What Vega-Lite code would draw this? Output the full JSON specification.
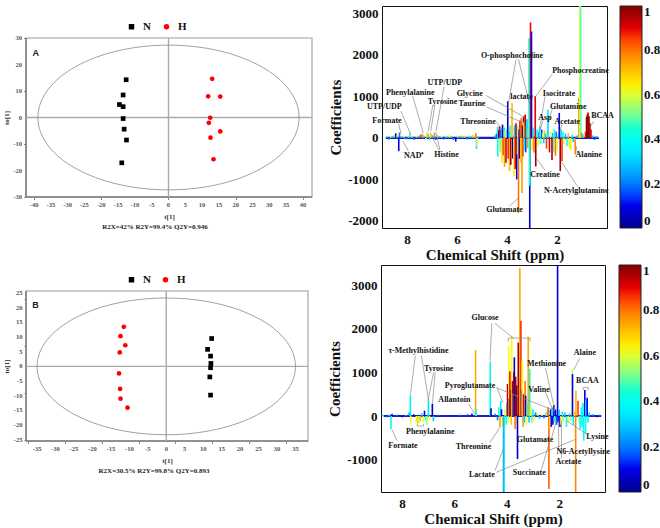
{
  "$schema": "https://vega.github.io/schema/vega-lite/v6.json",
  "background": "white",
  "padding": {"left": 2, "top": 5, "right": 0, "bottom": 0},
  "config": {"font": "Liberation Serif"},
  "datasets": {
    "scoreA": [
      {"t": -12.6, "o": 14.25, "g": "N"}, {"t": -13.5, "o": 8.5, "g": "N"}, {"t": -14.6, "o": 4.9, "g": "N"}, {"t": -13.5, "o": 4.1, "g": "N"},
      {"t": -13.5, "o": -0.4, "g": "N"}, {"t": -13.2, "o": -4.4, "g": "N"}, {"t": -12.5, "o": -8.5, "g": "N"}, {"t": -13.9, "o": -17.1, "g": "N"},
      {"t": 13.0, "o": 14.6, "g": "H"}, {"t": 11.8, "o": 8.0, "g": "H"}, {"t": 15.4, "o": 7.9, "g": "H"}, {"t": 12.4, "o": -0.1, "g": "H"},
      {"t": 12.0, "o": -2.0, "g": "H"}, {"t": 15.4, "o": -5.25, "g": "H"}, {"t": 12.5, "o": -7.6, "g": "H"}, {"t": 13.4, "o": -15.75, "g": "H"}
    ],
    "scoreB": [
      {"t": 12.3, "o": 9.5, "g": "N"}, {"t": 11.2, "o": 5.8, "g": "N"}, {"t": 12.0, "o": 3.5, "g": "N"}, {"t": 12.1, "o": 1.0, "g": "N"},
      {"t": 12.0, "o": -0.45, "g": "N"}, {"t": 11.8, "o": -3.6, "g": "N"}, {"t": 12.0, "o": -9.8, "g": "N"},
      {"t": -11.5, "o": 13.5, "g": "H"}, {"t": -12.4, "o": 10.3, "g": "H"}, {"t": -11.1, "o": 7.2, "g": "H"}, {"t": -12.6, "o": 4.75, "g": "H"},
      {"t": -12.8, "o": -2.4, "g": "H"}, {"t": -12.5, "o": -7.7, "g": "H"}, {"t": -12.4, "o": -11.0, "g": "H"}, {"t": -10.5, "o": -14.1, "g": "H"}
    ],
    "xlabA": [
      {"t": -40, "s": "-40"}, {"t": -35, "s": "-35"}, {"t": -30, "s": "-30"}, {"t": -25, "s": "-25"}, {"t": -20, "s": "-20"}, {"t": -15, "s": "-15"},
      {"t": -10, "s": "-10"}, {"t": -5, "s": "-5"}, {"t": 0, "s": "0"}, {"t": 5, "s": "5"}, {"t": 10, "s": "10"}, {"t": 15, "s": "15"},
      {"t": 20, "s": "20"}, {"t": 25, "s": "25"}, {"t": 30, "s": "30"}, {"t": 35, "s": "35"}, {"t": 40, "s": "40"}
    ],
    "ylabA": [
      {"o": -30, "s": "-30"}, {"o": -20, "s": "-20"}, {"o": -10, "s": "-10"}, {"o": 0, "s": "0"}, {"o": 10, "s": "10"}, {"o": 20, "s": "20"}, {"o": 30, "s": "30"}
    ],
    "xlabB": [
      {"t": -35, "s": "-35"}, {"t": -30, "s": "-30"}, {"t": -25, "s": "-25"}, {"t": -20, "s": "-20"}, {"t": -15, "s": "-15"},
      {"t": -10, "s": "-10"}, {"t": -5, "s": "-5"}, {"t": 0, "s": "0"}, {"t": 5, "s": "5"}, {"t": 10, "s": "10"}, {"t": 15, "s": "15"},
      {"t": 20, "s": "20"}, {"t": 25, "s": "25"}, {"t": 30, "s": "30"}, {"t": 35, "s": "35"}
    ],
    "ylabB": [
      {"o": -25, "s": "-25"}, {"o": -20, "s": "-20"}, {"o": -15, "s": "-15"}, {"o": -10, "s": "-10"}, {"o": -5, "s": "-5"}, {"o": 0, "s": "0"},
      {"o": 5, "s": "5"}, {"o": 10, "s": "10"}, {"o": 15, "s": "15"}, {"o": 20, "s": "20"}, {"o": 25, "s": "25"}
    ],
    "nmrA": [
      {"p": 8.8, "c": 30, "r": 0.4}, {"p": 8.72, "c": -40, "r": 0.2}, {"p": 8.65, "c": 50, "r": 0.6}, {"p": 8.58, "c": 40, "r": 0.3},
      {"p": 8.5, "c": 70, "r": 0.5}, {"p": 8.45, "c": 110, "r": 0.12}, {"p": 8.4, "c": 60, "r": 0.7}, {"p": 8.33, "c": -320, "r": 0.12},
      {"p": 8.3, "c": 130, "r": 0.2}, {"p": 8.22, "c": 40, "r": 0.45}, {"p": 8.12, "c": 60, "r": 0.6}, {"p": 8.05, "c": -40, "r": 0.3},
      {"p": 7.95, "c": 50, "r": 0.5}, {"p": 7.88, "c": 110, "r": 0.4}, {"p": 7.8, "c": 40, "r": 0.65}, {"p": 7.72, "c": -50, "r": 0.2},
      {"p": 7.62, "c": 40, "r": 0.55}, {"p": 7.5, "c": 60, "r": 0.3}, {"p": 7.44, "c": 80, "r": 0.85}, {"p": 7.38, "c": 100, "r": 0.75},
      {"p": 7.32, "c": 60, "r": 0.35}, {"p": 7.25, "c": -50, "r": 0.6}, {"p": 7.2, "c": 140, "r": 0.55}, {"p": 7.15, "c": 100, "r": 0.75},
      {"p": 7.1, "c": -60, "r": 0.4}, {"p": 7.05, "c": 120, "r": 0.62}, {"p": 6.98, "c": 60, "r": 0.3}, {"p": 6.9, "c": 130, "r": 0.78},
      {"p": 6.85, "c": -50, "r": 0.15}, {"p": 6.78, "c": 70, "r": 0.5}, {"p": 6.7, "c": 40, "r": 0.3}, {"p": 6.62, "c": 60, "r": 0.6},
      {"p": 6.55, "c": -40, "r": 0.2}, {"p": 6.45, "c": 50, "r": 0.5}, {"p": 6.38, "c": 30, "r": 0.3}, {"p": 6.3, "c": 60, "r": 0.65},
      {"p": 6.22, "c": 40, "r": 0.4}, {"p": 6.15, "c": -50, "r": 0.2}, {"p": 6.05, "c": -90, "r": 0.1}, {"p": 5.97, "c": 50, "r": 0.55},
      {"p": 5.9, "c": 40, "r": 0.3}, {"p": 5.82, "c": 60, "r": 0.7}, {"p": 5.75, "c": 30, "r": 0.4}, {"p": 5.68, "c": 50, "r": 0.6},
      {"p": 5.6, "c": -40, "r": 0.25}, {"p": 5.52, "c": 60, "r": 0.5}, {"p": 5.45, "c": 40, "r": 0.35}, {"p": 5.38, "c": 70, "r": 0.7},
      {"p": 5.3, "c": 50, "r": 0.6}, {"p": 5.25, "c": 110, "r": 0.8}, {"p": 5.22, "c": -270, "r": 0.35}, {"p": 5.2, "c": -200, "r": 0.6},
      {"p": 5.15, "c": 30, "r": 0.3},
      {"p": 4.48, "c": 60, "r": 0.3}, {"p": 4.42, "c": 100, "r": 0.15}, {"p": 4.38, "c": 260, "r": 0.35}, {"p": 4.37, "c": -450, "r": 0.4},
      {"p": 4.33, "c": 180, "r": 0.05}, {"p": 4.3, "c": 280, "r": 0.9}, {"p": 4.28, "c": -350, "r": 0.55}, {"p": 4.25, "c": 220, "r": 0.2},
      {"p": 4.22, "c": -300, "r": 0.45}, {"p": 4.2, "c": -600, "r": 0.65}, {"p": 4.18, "c": 320, "r": 0.05}, {"p": 4.15, "c": -420, "r": 0.85},
      {"p": 4.12, "c": 250, "r": 0.3}, {"p": 4.1, "c": -700, "r": 0.75}, {"p": 4.07, "c": 180, "r": 0.6}, {"p": 4.04, "c": -600, "r": 0.92},
      {"p": 4.01, "c": 200, "r": 0.4}, {"p": 3.97, "c": 880, "r": 0.05}, {"p": 3.95, "c": -500, "r": 0.9}, {"p": 3.92, "c": 150, "r": 0.2},
      {"p": 3.9, "c": -800, "r": 0.72}, {"p": 3.88, "c": 300, "r": 0.45}, {"p": 3.85, "c": -650, "r": 0.95}, {"p": 3.8, "c": 840, "r": 0.72},
      {"p": 3.77, "c": -500, "r": 0.05}, {"p": 3.72, "c": -925, "r": 0.65}, {"p": 3.7, "c": 300, "r": 0.3}, {"p": 3.67, "c": -750, "r": 0.88},
      {"p": 3.64, "c": 350, "r": 0.95}, {"p": 3.61, "c": -1000, "r": 0.1}, {"p": 3.58, "c": -400, "r": 0.6}, {"p": 3.56, "c": 300, "r": 0.55},
      {"p": 3.54, "c": -1805, "r": 0.8}, {"p": 3.52, "c": 200, "r": 0.15}, {"p": 3.5, "c": -500, "r": 0.05}, {"p": 3.48, "c": 420, "r": 0.9},
      {"p": 3.45, "c": -600, "r": 0.7}, {"p": 3.43, "c": 480, "r": 0.8}, {"p": 3.4, "c": -1330, "r": 0.75}, {"p": 3.38, "c": 300, "r": 0.1},
      {"p": 3.36, "c": -450, "r": 0.85}, {"p": 3.34, "c": 520, "r": 0.95}, {"p": 3.32, "c": 380, "r": 0.62}, {"p": 3.3, "c": -300, "r": 0.4},
      {"p": 3.27, "c": 560, "r": 0.97}, {"p": 3.25, "c": -350, "r": 0.15}, {"p": 3.22, "c": 300, "r": 0.5}, {"p": 3.2, "c": 450, "r": 0.3},
      {"p": 3.17, "c": -250, "r": 0.75}, {"p": 3.14, "c": 200, "r": 0.6},
      {"p": 3.09, "c": -2250, "r": 0.08}, {"p": 3.1, "c": -1150, "r": 0.45}, {"p": 3.12, "c": 2400, "r": 0.45},
      {"p": 3.06, "c": 2780, "r": 0.88}, {"p": 3.02, "c": 2560, "r": 0.1}, {"p": 2.99, "c": -300, "r": 0.65}, {"p": 2.96, "c": 250, "r": 0.3},
      {"p": 2.92, "c": -350, "r": 0.8}, {"p": 2.87, "c": 1005, "r": 0.9}, {"p": 2.85, "c": -690, "r": 0.98}, {"p": 2.8, "c": 200, "r": 0.4},
      {"p": 2.76, "c": -200, "r": 0.6}, {"p": 2.72, "c": 150, "r": 0.2}, {"p": 2.69, "c": 270, "r": 0.35}, {"p": 2.65, "c": -150, "r": 0.5},
      {"p": 2.61, "c": 200, "r": 0.15}, {"p": 2.57, "c": 120, "r": 0.6}, {"p": 2.53, "c": -130, "r": 0.3}, {"p": 2.5, "c": 180, "r": 0.7},
      {"p": 2.46, "c": 100, "r": 0.3}, {"p": 2.42, "c": -260, "r": 0.85}, {"p": 2.38, "c": 150, "r": 0.5}, {"p": 2.36, "c": 680, "r": 0.33},
      {"p": 2.3, "c": -350, "r": 0.9}, {"p": 2.26, "c": 150, "r": 0.6}, {"p": 2.2, "c": -530, "r": 0.96}, {"p": 2.17, "c": 120, "r": 0.3},
      {"p": 2.13, "c": -350, "r": 0.5}, {"p": 2.1, "c": 200, "r": 0.4}, {"p": 2.06, "c": -430, "r": 0.8}, {"p": 2.03, "c": 150, "r": 0.2},
      {"p": 1.99, "c": -300, "r": 0.6}, {"p": 1.95, "c": 100, "r": 0.5}, {"p": 1.91, "c": 600, "r": 0.1}, {"p": 1.87, "c": -800, "r": 0.97},
      {"p": 1.84, "c": 200, "r": 0.3}, {"p": 1.8, "c": -560, "r": 0.85}, {"p": 1.76, "c": 150, "r": 0.4}, {"p": 1.72, "c": -150, "r": 0.6},
      {"p": 1.66, "c": 100, "r": 0.3}, {"p": 1.6, "c": -200, "r": 0.45}, {"p": 1.55, "c": 120, "r": 0.7}, {"p": 1.5, "c": -250, "r": 0.6},
      {"p": 1.45, "c": -300, "r": 0.65}, {"p": 1.4, "c": 80, "r": 0.4}, {"p": 1.35, "c": -100, "r": 0.3}, {"p": 1.27, "c": -400, "r": 0.78},
      {"p": 1.2, "c": 60, "r": 0.3}, {"p": 1.13, "c": 960, "r": 0.74}, {"p": 1.09, "c": 3400, "r": 0.58}, {"p": 1.05, "c": 3400, "r": 0.5},
      {"p": 1.01, "c": 120, "r": 0.8}, {"p": 0.95, "c": 80, "r": 0.45}, {"p": 0.86, "c": 150, "r": 0.85}, {"p": 0.82, "c": 500, "r": 0.97},
      {"p": 0.79, "c": 560, "r": 0.98}, {"p": 0.76, "c": 610, "r": 0.96}, {"p": 0.72, "c": 520, "r": 0.98}, {"p": 0.68, "c": 350, "r": 0.95},
      {"p": 0.64, "c": 200, "r": 0.9}, {"p": 0.58, "c": 60, "r": 0.3}, {"p": 0.5, "c": -50, "r": 0.15}, {"p": 0.42, "c": 40, "r": 0.3},
      {"p": 0.35, "c": -30, "r": 0.1}
    ],
    "nmrB": [
      {"p": 8.75, "c": 30, "r": 0.3}, {"p": 8.6, "c": -30, "r": 0.2}, {"p": 8.5, "c": 40, "r": 0.4}, {"p": 8.42, "c": -300, "r": 0.36},
      {"p": 8.38, "c": 50, "r": 0.1}, {"p": 8.2, "c": 30, "r": 0.2}, {"p": 8.0, "c": -30, "r": 0.1}, {"p": 7.85, "c": 30, "r": 0.3},
      {"p": 7.72, "c": 80, "r": 0.2}, {"p": 7.68, "c": 465, "r": 0.36}, {"p": 7.66, "c": -180, "r": 0.62}, {"p": 7.55, "c": 40, "r": 0.1},
      {"p": 7.45, "c": -150, "r": 0.6}, {"p": 7.4, "c": -180, "r": 0.68}, {"p": 7.35, "c": -160, "r": 0.58}, {"p": 7.3, "c": -120, "r": 0.7},
      {"p": 7.25, "c": 60, "r": 0.3}, {"p": 7.19, "c": -140, "r": 0.6}, {"p": 7.14, "c": 122, "r": 0.12}, {"p": 7.1, "c": -100, "r": 0.45},
      {"p": 7.05, "c": -200, "r": 0.55}, {"p": 6.99, "c": 351, "r": 0.34}, {"p": 6.95, "c": -90, "r": 0.62}, {"p": 6.84, "c": 275, "r": 0.06},
      {"p": 6.8, "c": -120, "r": 0.3}, {"p": 6.6, "c": 30, "r": 0.2}, {"p": 6.2, "c": 20, "r": 0.1}, {"p": 5.8, "c": 30, "r": 0.2},
      {"p": 5.5, "c": 40, "r": 0.15}, {"p": 5.33, "c": 60, "r": 0.1}, {"p": 5.19, "c": 1510, "r": 0.74}, {"p": 5.17, "c": 160, "r": 0.4},
      {"p": 4.63, "c": 1244, "r": 0.42}, {"p": 4.6, "c": 180, "r": 0.08}, {"p": 4.45, "c": 50, "r": 0.2},
      {"p": 4.35, "c": -100, "r": 0.2}, {"p": 4.3, "c": 200, "r": 0.45}, {"p": 4.26, "c": -260, "r": 0.75}, {"p": 4.23, "c": 350, "r": 0.35},
      {"p": 4.2, "c": 150, "r": 0.1}, {"p": 4.17, "c": -250, "r": 0.6}, {"p": 4.12, "c": -1800, "r": 0.15}, {"p": 4.1, "c": -1800, "r": 0.36},
      {"p": 4.06, "c": 150, "r": 0.6}, {"p": 4.02, "c": -200, "r": 0.4}, {"p": 3.99, "c": 300, "r": 0.3}, {"p": 3.97, "c": 733, "r": 0.95},
      {"p": 3.94, "c": -150, "r": 0.6}, {"p": 3.92, "c": 1610, "r": 0.62}, {"p": 3.9, "c": 400, "r": 0.1}, {"p": 3.88, "c": 1023, "r": 0.88},
      {"p": 3.85, "c": 600, "r": 0.97}, {"p": 3.83, "c": -200, "r": 0.7}, {"p": 3.81, "c": 1839, "r": 0.63}, {"p": 3.78, "c": 800, "r": 0.95},
      {"p": 3.75, "c": 500, "r": 0.3}, {"p": 3.73, "c": 1000, "r": 0.9}, {"p": 3.71, "c": 1344, "r": 0.08}, {"p": 3.68, "c": -300, "r": 0.8},
      {"p": 3.66, "c": 900, "r": 0.97}, {"p": 3.62, "c": 700, "r": 0.98}, {"p": 3.6, "c": -200, "r": 0.65}, {"p": 3.59, "c": -984, "r": 0.08},
      {"p": 3.56, "c": 1680, "r": 0.97}, {"p": 3.54, "c": 1000, "r": 0.95}, {"p": 3.5, "c": 3389, "r": 0.74}, {"p": 3.46, "c": 2183, "r": 0.86},
      {"p": 3.43, "c": 600, "r": 0.1}, {"p": 3.41, "c": 1267, "r": 0.62}, {"p": 3.38, "c": -250, "r": 0.75}, {"p": 3.36, "c": 500, "r": 0.9},
      {"p": 3.33, "c": -150, "r": 0.3}, {"p": 3.3, "c": 800, "r": 0.8}, {"p": 3.28, "c": 465, "r": 0.08}, {"p": 3.25, "c": -200, "r": 0.6},
      {"p": 3.22, "c": 300, "r": 0.4}, {"p": 3.18, "c": 1817, "r": 0.74}, {"p": 3.15, "c": -150, "r": 0.3}, {"p": 3.12, "c": 1076, "r": 0.45},
      {"p": 3.08, "c": 200, "r": 0.6}, {"p": 3.04, "c": -150, "r": 0.5}, {"p": 3.0, "c": 150, "r": 0.35}, {"p": 2.95, "c": -100, "r": 0.6},
      {"p": 2.9, "c": 80, "r": 0.2}, {"p": 2.82, "c": 60, "r": 0.6}, {"p": 2.75, "c": -60, "r": 0.3}, {"p": 2.66, "c": 50, "r": 0.6},
      {"p": 2.58, "c": -50, "r": 0.2}, {"p": 2.5, "c": 80, "r": 0.4}, {"p": 2.45, "c": 120, "r": 0.7}, {"p": 2.42, "c": 199, "r": 0.82},
      {"p": 2.39, "c": -1672, "r": 0.82}, {"p": 2.36, "c": -300, "r": 0.7}, {"p": 2.33, "c": 150, "r": 0.08}, {"p": 2.3, "c": -250, "r": 0.1},
      {"p": 2.27, "c": 200, "r": 0.3}, {"p": 2.24, "c": -200, "r": 0.06}, {"p": 2.2, "c": 250, "r": 0.1}, {"p": 2.17, "c": -150, "r": 0.4},
      {"p": 2.14, "c": 150, "r": 0.06}, {"p": 2.1, "c": -200, "r": 0.15}, {"p": 2.06, "c": 3600, "r": 0.08}, {"p": 2.04, "c": -150, "r": 0.06},
      {"p": 2.0, "c": 150, "r": 0.3}, {"p": 1.97, "c": -250, "r": 0.1}, {"p": 1.93, "c": -200, "r": 0.62}, {"p": 1.88, "c": 100, "r": 0.35},
      {"p": 1.84, "c": -120, "r": 0.5}, {"p": 1.78, "c": 80, "r": 0.3}, {"p": 1.72, "c": -250, "r": 0.4}, {"p": 1.65, "c": -150, "r": 0.62},
      {"p": 1.6, "c": 60, "r": 0.3}, {"p": 1.55, "c": -100, "r": 0.5}, {"p": 1.5, "c": 1055, "r": 0.6}, {"p": 1.49, "c": 960, "r": 0.12},
      {"p": 1.46, "c": -200, "r": 0.35}, {"p": 1.42, "c": 100, "r": 0.7}, {"p": 1.37, "c": -1800, "r": 0.78}, {"p": 1.36, "c": 580, "r": 0.72},
      {"p": 1.28, "c": 351, "r": 0.85}, {"p": 1.24, "c": -150, "r": 0.6}, {"p": 1.2, "c": -300, "r": 0.38}, {"p": 1.16, "c": 200, "r": 0.4},
      {"p": 1.13, "c": -250, "r": 0.35}, {"p": 1.09, "c": 300, "r": 0.35}, {"p": 1.06, "c": -565, "r": 0.38}, {"p": 1.02, "c": 595, "r": 0.1},
      {"p": 0.99, "c": -400, "r": 0.4}, {"p": 0.97, "c": 357, "r": 0.38}, {"p": 0.93, "c": 420, "r": 0.12}, {"p": 0.9, "c": -150, "r": 0.35},
      {"p": 0.85, "c": 80, "r": 0.3}, {"p": 0.7, "c": 40, "r": 0.2}, {"p": 0.55, "c": -30, "r": 0.1}, {"p": 0.45, "c": 30, "r": 0.2}
    ],
    "labA": [
      {"p": 8.8, "c": 401, "t": "Formate"}, {"p": 8.91, "c": 746, "t": "UTP/UDP"}, {"p": 7.71, "c": -442, "t": "NAD⁺"},
      {"p": 7.87, "c": 1091, "t": "Phenylalanine"}, {"p": 6.58, "c": 874, "t": "Tyrosine"}, {"p": 6.42, "c": -402, "t": "Histine"},
      {"p": 6.49, "c": 1323, "t": "UTP/UDP"}, {"p": 5.16, "c": 385, "t": "Threonine"}, {"p": 3.8, "c": 1965, "t": "O-phosphocholine"},
      {"p": 5.49, "c": 1067, "t": "Glycine"}, {"p": 5.4, "c": 818, "t": "Taurine"}, {"p": 3.42, "c": 978, "t": "lactate"},
      {"p": 1.06, "c": 1612, "t": "Phosphocreatine"}, {"p": 1.92, "c": 1058, "t": "Isocitrate"}, {"p": 1.55, "c": 746, "t": "Glutamine"},
      {"p": 2.48, "c": 481, "t": "Asp"}, {"p": 1.59, "c": 393, "t": "Acetate"}, {"p": 0.18, "c": 537, "t": "BCAA"},
      {"p": 0.73, "c": -410, "t": "Alanine"}, {"p": 2.48, "c": -899, "t": "Creatine"}, {"p": 1.23, "c": -1268, "t": "N-Acetylglutamine"},
      {"p": 4.1, "c": -1742, "t": "Glutamate"}
    ],
    "leadA": [
      {"p": 8.34, "c": 345, "p2": 8.24, "c2": 104}, {"p": 8.24, "c": 641, "p2": 7.85, "c2": 80}, {"p": 7.94, "c": -321, "p2": 8.16, "c2": -81},
      {"p": 7.77, "c": 1002, "p2": 7.35, "c2": 120}, {"p": 6.97, "c": 778, "p2": 7.15, "c2": 160}, {"p": 6.89, "c": 778, "p2": 7.05, "c2": 160},
      {"p": 6.71, "c": -297, "p2": 7.08, "c2": 120}, {"p": 6.68, "c": -297, "p2": 6.84, "c2": 120}, {"p": 6.52, "c": 1227, "p2": 6.84, "c2": 160},
      {"p": 4.43, "c": 385, "p2": 4.17, "c2": 184}, {"p": 3.64, "c": 1885, "p2": 3.95, "c2": 802}, {"p": 3.54, "c": 1885, "p2": 3.08, "c2": 778},
      {"p": 4.83, "c": 1018, "p2": 3.38, "c2": 521}, {"p": 4.83, "c": 746, "p2": 3.34, "c2": 360}, {"p": 2.19, "c": 1532, "p2": 2.85, "c2": 1002},
      {"p": 2.48, "c": 1002, "p2": 2.69, "c2": 240}, {"p": 2.19, "c": 682, "p2": 2.34, "c2": 425}, {"p": 2.56, "c": 425, "p2": 2.69, "c2": 160},
      {"p": 1.79, "c": 345, "p2": 1.89, "c2": 160}, {"p": 0.53, "c": 400, "p2": 0.66, "c2": 280}, {"p": 1.19, "c": -362, "p2": 1.23, "c2": -201},
      {"p": 2.48, "c": -779, "p2": 2.81, "c2": -506}, {"p": 1.19, "c": -1164, "p2": 1.81, "c2": -586}, {"p": 3.91, "c": -1645, "p2": 3.54, "c2": -1445}
    ],
    "labB": [
      {"p": 7.37, "c": 1495, "t": "τ-Methylhistidine"}, {"p": 6.6, "c": 1068, "t": "Tyrosine"}, {"p": 5.4, "c": 694, "t": "Pyroglutamate"},
      {"p": 6.0, "c": 366, "t": "Allantoin"}, {"p": 4.83, "c": 2243, "t": "Glucose"}, {"p": 2.48, "c": 1190, "t": "Methionine"},
      {"p": 2.77, "c": 595, "t": "Valine"}, {"p": 1.02, "c": 1434, "t": "Alaine"}, {"p": 0.92, "c": 794, "t": "BCAA"},
      {"p": 6.92, "c": -359, "t": "Phenylalanine"}, {"p": 7.96, "c": -679, "t": "Formate"}, {"p": 5.27, "c": -702, "t": "Threonine"},
      {"p": 4.95, "c": -1343, "t": "Lactate"}, {"p": 2.92, "c": -549, "t": "Glutamate"}, {"p": 1.08, "c": -832, "t": "N6-Acetyllysine"},
      {"p": 1.65, "c": -1060, "t": "Acetate"}, {"p": 3.14, "c": -1312, "t": "Succinate"}, {"p": 0.54, "c": -473, "t": "Lysine"}
    ],
    "leadB": [
      {"p": 7.49, "c": 1381, "p2": 7.68, "c2": 465}, {"p": 7.26, "c": 1381, "p2": 6.98, "c2": 351},
      {"p": 6.79, "c": 1000, "p2": 7.01, "c2": 351}, {"p": 6.73, "c": 1000, "p2": 6.84, "c2": 275},
      {"p": 4.38, "c": 656, "p2": 4.15, "c2": 313}, {"p": 4.38, "c": 640, "p2": 2.16, "c2": 122},
      {"p": 5.46, "c": 275, "p2": 5.21, "c2": 46},
      {"p": 4.57, "c": 2121, "p2": 4.64, "c2": 1267}, {"p": 4.45, "c": 2121, "p2": 3.75, "c2": 1785},
      {"p": 3.94, "c": 1785, "p2": 3.11, "c2": 1785}, {"p": 3.94, "c": 1785, "p2": 3.94, "c2": 1700}, {"p": 3.11, "c": 1785, "p2": 3.11, "c2": 1700},
      {"p": 2.52, "c": 1099, "p2": 2.16, "c2": 122}, {"p": 2.52, "c": 542, "p2": 2.23, "c2": 122},
      {"p": 1.21, "c": 1320, "p2": 1.45, "c2": 1053},
      {"p": 1.08, "c": 656, "p2": 0.89, "c2": 656}, {"p": 1.08, "c": 656, "p2": 1.08, "c2": 590}, {"p": 0.89, "c": 656, "p2": 0.89, "c2": 590},
      {"p": 7.42, "c": -230, "p2": 7.18, "c2": -230}, {"p": 7.42, "c": -230, "p2": 7.42, "c2": -180}, {"p": 7.18, "c": -230, "p2": 7.18, "c2": -180},
      {"p": 8.19, "c": -565, "p2": 8.38, "c2": -313}, {"p": 4.64, "c": -603, "p2": 4.26, "c2": -259},
      {"p": 4.45, "c": -1251, "p2": 4.13, "c2": -755}, {"p": 4.4, "c": -1290, "p2": 1.34, "c2": -526},
      {"p": 2.29, "c": -504, "p2": 2.1, "c2": -107}, {"p": 2.01, "c": -755, "p2": 2.03, "c2": -107},
      {"p": 1.91, "c": -970, "p2": 1.91, "c2": -107}, {"p": 2.67, "c": -1213, "p2": 2.39, "c2": -641},
      {"p": 0.96, "c": -412, "p2": 1.72, "c2": -107}
    ]
  },
  "spacing": 1,
  "resolve": {"scale": {"color": "independent", "shape": "independent"}, "legend": {"color": "independent", "shape": "independent"}},
  "vconcat": [
    {
      "spacing": 15,
      "resolve": {"scale": {"color": "independent", "shape": "independent"}, "legend": {"color": "independent", "shape": "independent"}},
      "hconcat": [
        {
          "width": 286, "height": 191,
          "view": {"stroke": null},
          "title": {"text": "R2X=42% R2Y=99.4% Q2Y=0.946", "orient": "bottom", "font": "Liberation Serif", "fontSize": 7, "fontWeight": "bold", "color": "#222", "offset": 4, "dx": -14},
          "layer": [
            {"data": {"values": [{}]}, "mark": {"type": "rect", "fill": "white", "fillOpacity": 0, "stroke": "#bdbdbd", "strokeWidth": 1.6},
             "encoding": {
               "x": {"datum": -42.4, "type": "quantitative", "scale": {"domain": [-42.4, 42.7], "nice": false, "zero": false},
                     "axis": {"title": "t[1]", "values": [-40, -37.5, -35, -32.5, -30, -27.5, -25, -22.5, -20, -17.5, -15, -12.5, -10, -7.5, -5, -2.5, 0, 2.5, 5, 7.5, 10, 12.5, 15, 17.5, 20, 22.5, 25, 27.5, 30, 32.5, 35, 37.5, 40],
                              "labels": false, "grid": false, "domain": false, "tickColor": "#888", "tickSize": 2.5,
                              "titleFont": "Liberation Serif", "titleFontSize": 7, "titleFontWeight": "bold", "titleColor": "#333", "titlePadding": 12}},
               "x2": {"datum": 42.7},
               "y": {"datum": -30, "type": "quantitative", "scale": {"domain": [-30, 42.08], "nice": false, "zero": false},
                     "axis": {"title": "to[1]", "titleY": 111.5, "values": [-30, -25, -20, -15, -10, -5, 0, 5, 10, 15, 20, 25, 30],
                              "labels": false, "grid": false, "domain": false, "tickColor": "#888", "tickSize": 2.5,
                              "titleFont": "Liberation Serif", "titleFontSize": 7, "titleFontWeight": "bold", "titleColor": "#333", "titlePadding": 14}},
               "y2": {"datum": 30}}},
            {"data": {"values": [{}]}, "mark": {"type": "rule", "color": "#555", "strokeWidth": 1},
             "encoding": {"x": {"datum": -42.4, "type": "quantitative"}, "y": {"datum": -30, "type": "quantitative"}, "y2": {"datum": 30}}},
            {"data": {"values": [{}]}, "mark": {"type": "rule", "color": "#555", "strokeWidth": 1},
             "encoding": {"x": {"datum": -42.4, "type": "quantitative"}, "x2": {"datum": 42.7}, "y": {"datum": -30, "type": "quantitative"}}},
            {"data": {"values": [{}]}, "mark": {"type": "rule", "color": "#aaa", "strokeWidth": 1.4},
             "encoding": {"x": {"datum": 0, "type": "quantitative"}, "y": {"datum": -30, "type": "quantitative"}, "y2": {"datum": 30}}},
            {"data": {"values": [{}]}, "mark": {"type": "rule", "color": "#aaa", "strokeWidth": 1.4},
             "encoding": {"x": {"datum": -42.4, "type": "quantitative"}, "x2": {"datum": 42.7}, "y": {"datum": 0, "type": "quantitative"}}},
            {"data": {"values": [{}]},
             "mark": {"type": "point", "shape": "M-1,0A1,0.554,0,1,1,1,0A1,0.554,0,1,1,-1,0Z", "size": 68225, "filled": false, "stroke": "#888", "strokeWidth": 0.8, "opacity": 1},
             "encoding": {"x": {"datum": 0, "type": "quantitative"}, "y": {"datum": 0, "type": "quantitative"}}},
            {"data": {"name": "xlabA"},
             "mark": {"type": "text", "font": "Liberation Serif", "fontSize": 6.5, "fontWeight": "bold", "color": "#555", "baseline": "top", "dy": 4.5},
             "encoding": {"x": {"field": "t", "type": "quantitative"}, "y": {"datum": -30, "type": "quantitative"}, "text": {"field": "s"}}},
            {"data": {"name": "ylabA"},
             "mark": {"type": "text", "font": "Liberation Serif", "fontSize": 6.5, "fontWeight": "bold", "color": "#555", "align": "right", "baseline": "middle", "dx": -4},
             "encoding": {"x": {"datum": -42.4, "type": "quantitative"}, "y": {"field": "o", "type": "quantitative"}, "text": {"field": "s"}}},
            {"data": {"name": "scoreA"},
             "mark": {"type": "point", "filled": true, "size": 22, "opacity": 1},
             "encoding": {
               "x": {"field": "t", "type": "quantitative"},
               "y": {"field": "o", "type": "quantitative"},
               "color": {"field": "g", "type": "nominal", "scale": {"domain": ["N", "H"], "range": ["#000000", "#ff0000"]},
                         "legend": {"title": null, "orient": "none", "legendX": 100, "legendY": 15, "direction": "horizontal",
                                    "labelFont": "Liberation Serif", "labelFontSize": 11, "labelFontWeight": "bold", "labelColor": "#111", "symbolSize": 30, "columnPadding": 10, "labelOffset": 6}},
               "shape": {"field": "g", "type": "nominal", "scale": {"domain": ["N", "H"], "range": ["square", "circle"]}}
             }},
            {"data": {"values": [{}]},
             "mark": {"type": "text", "font": "Liberation Sans", "fontSize": 9, "fontWeight": "bold", "color": "#222"},
             "encoding": {"x": {"datum": -39.5, "type": "quantitative"}, "y": {"datum": 24.2, "type": "quantitative"}, "text": {"value": "A"}}}
          ]
        },
        {
          "width": 225, "height": 222,
          "view": {"stroke": "#111", "strokeWidth": 1},
          "layer": [
            {"data": {"values": [{"p": 8.85, "p2": 0.35, "c": 0}]},
             "mark": {"type": "rule", "color": "#1a1ad0", "strokeWidth": 2.2},
             "encoding": {"x": {"field": "p", "type": "quantitative", "scale": {"domain": [9, 0], "nice": false, "zero": false}},
                          "x2": {"field": "p2"},
                          "y": {"field": "c", "type": "quantitative", "scale": {"domain": [-2170, 3175], "nice": false, "zero": false}}}},
            {"data": {"name": "nmrA"},
             "mark": {"type": "rule", "strokeWidth": 1.6, "clip": true},
             "encoding": {
               "x": {"field": "p", "type": "quantitative", "scale": {"domain": [9, 0], "nice": false, "zero": false},
                     "axis": {"title": "Chemical Shift (ppm)", "values": [8, 6, 4, 2], "grid": false, "domain": false, "ticks": false,
                              "labelFont": "Liberation Serif", "labelFontSize": 13, "labelFontWeight": "bold", "labelColor": "#111", "labelPadding": 5,
                              "titleFont": "Liberation Serif", "titleFontSize": 15, "titleFontWeight": "bold", "titleColor": "#111", "titlePadding": 1}},
               "y": {"field": "c", "type": "quantitative", "scale": {"domain": [-2170, 3175], "nice": false, "zero": false},
                     "axis": {"title": "Coefficients", "values": [-2000, -1000, 0, 1000, 2000, 3000], "labelExpr": "datum.value + ''", "grid": false, "domain": false, "ticks": false,
                              "labelFont": "Liberation Serif", "labelFontSize": 13, "labelFontWeight": "bold", "labelColor": "#111", "labelPadding": 4,
                              "titleFont": "Liberation Serif", "titleFontSize": 15, "titleFontWeight": "bold", "titleColor": "#111", "titlePadding": 4}},
               "y2": {"datum": 0},
               "color": {"field": "r", "type": "quantitative",
                         "scale": {"type": "linear", "domain": [0, 0.125, 0.375, 0.625, 0.875, 1], "range": ["#00008f", "#0000ff", "#00ffff", "#ffff00", "#ff0000", "#800000"]},
                         "legend": {"title": null, "orient": "right", "offset": 13, "direction": "vertical", "gradientLength": 222, "gradientThickness": 22,
                                    "values": [0, 0.2, 0.4, 0.6, 0.8, 1], "labelExpr": "datum.value + ''",
                                    "labelFont": "Liberation Serif", "labelFontSize": 13, "labelFontWeight": "bold", "labelColor": "#111", "labelOffset": 2,
                                    "gradientStrokeColor": "#222", "gradientStrokeWidth": 1}}
             }},
            {"data": {"name": "leadA"},
             "mark": {"type": "rule", "color": "#8a8a8a", "strokeWidth": 0.7},
             "encoding": {"x": {"field": "p", "type": "quantitative"}, "x2": {"field": "p2"}, "y": {"field": "c", "type": "quantitative"}, "y2": {"field": "c2"}}},
            {"data": {"name": "labA"},
             "mark": {"type": "text", "font": "Liberation Serif", "fontSize": 8, "fontWeight": "bold", "color": "#111"},
             "encoding": {"x": {"field": "p", "type": "quantitative"}, "y": {"field": "c", "type": "quantitative"}, "text": {"field": "t"}}}
          ]
        }
      ]
    },
    {
      "spacing": 18,
      "resolve": {"scale": {"color": "independent", "shape": "independent"}, "legend": {"color": "independent", "shape": "independent"}},
      "hconcat": [
        {
          "width": 282, "height": 176,
          "view": {"stroke": null},
          "title": {"text": "R2X=30.5% R2Y=99.8% Q2Y=0.893", "orient": "bottom", "font": "Liberation Serif", "fontSize": 7, "fontWeight": "bold", "color": "#222", "offset": 4, "dx": -13},
          "layer": [
            {"data": {"values": [{}]}, "mark": {"type": "rect", "fill": "white", "fillOpacity": 0, "stroke": "#bdbdbd", "strokeWidth": 1.6},
             "encoding": {
               "x": {"datum": -38, "type": "quantitative", "scale": {"domain": [-38, 38.4], "nice": false, "zero": false},
                     "axis": {"title": "t[1]", "values": [-37.5, -35, -32.5, -30, -27.5, -25, -22.5, -20, -17.5, -15, -12.5, -10, -7.5, -5, -2.5, 0, 2.5, 5, 7.5, 10, 12.5, 15, 17.5, 20, 22.5, 25, 27.5, 30, 32.5, 35, 37.5],
                              "labels": false, "grid": false, "domain": false, "tickColor": "#888", "tickSize": 2.5,
                              "titleFont": "Liberation Serif", "titleFontSize": 7, "titleFontWeight": "bold", "titleColor": "#333", "titlePadding": 12}},
               "x2": {"datum": 38.4},
               "y": {"datum": -25.45, "type": "quantitative", "scale": {"domain": [-25.45, 34.57], "nice": false, "zero": false},
                     "axis": {"title": "to[1]", "titleY": 101, "values": [-25, -24, -23, -22, -21, -20, -19, -18, -17, -16, -15, -14, -13, -12, -11, -10, -9, -8, -7, -6, -5, -4, -3, -2, -1, 0, 1, 2, 3, 4, 5, 6, 7, 8, 9, 10, 11, 12, 13, 14, 15, 16, 17, 18, 19, 20, 21, 22, 23, 24, 25],
                              "labels": false, "grid": false, "domain": false, "tickColor": "#888", "tickSize": 2,
                              "titleFont": "Liberation Serif", "titleFontSize": 7, "titleFontWeight": "bold", "titleColor": "#333", "titlePadding": 14}},
               "y2": {"datum": 25.7}}},
            {"data": {"values": [{}]}, "mark": {"type": "rule", "color": "#555", "strokeWidth": 1},
             "encoding": {"x": {"datum": -38, "type": "quantitative"}, "y": {"datum": -25.45, "type": "quantitative"}, "y2": {"datum": 25.7}}},
            {"data": {"values": [{}]}, "mark": {"type": "rule", "color": "#555", "strokeWidth": 1},
             "encoding": {"x": {"datum": -38, "type": "quantitative"}, "x2": {"datum": 38.4}, "y": {"datum": -25.45, "type": "quantitative"}}},
            {"data": {"values": [{}]}, "mark": {"type": "rule", "color": "#aaa", "strokeWidth": 1.4},
             "encoding": {"x": {"datum": 0, "type": "quantitative"}, "y": {"datum": -25.45, "type": "quantitative"}, "y2": {"datum": 25.7}}},
            {"data": {"values": [{}]}, "mark": {"type": "rule", "color": "#aaa", "strokeWidth": 1.4},
             "encoding": {"x": {"datum": -38, "type": "quantitative"}, "x2": {"datum": 38.4}, "y": {"datum": 0, "type": "quantitative"}}},
            {"data": {"values": [{}]},
             "mark": {"type": "point", "shape": "M-1,0A1,0.529,0,1,1,1,0A1,0.529,0,1,1,-1,0Z", "size": 66770, "filled": false, "stroke": "#888", "strokeWidth": 0.8, "opacity": 1},
             "encoding": {"x": {"datum": 0, "type": "quantitative"}, "y": {"datum": 0, "type": "quantitative"}}},
            {"data": {"name": "xlabB"},
             "mark": {"type": "text", "font": "Liberation Serif", "fontSize": 6.5, "fontWeight": "bold", "color": "#555", "baseline": "top", "dy": 4.5},
             "encoding": {"x": {"field": "t", "type": "quantitative"}, "y": {"datum": -25.45, "type": "quantitative"}, "text": {"field": "s"}}},
            {"data": {"name": "ylabB"},
             "mark": {"type": "text", "font": "Liberation Serif", "fontSize": 6.5, "fontWeight": "bold", "color": "#555", "align": "right", "baseline": "middle", "dx": -3.5},
             "encoding": {"x": {"datum": -38, "type": "quantitative"}, "y": {"field": "o", "type": "quantitative"}, "text": {"field": "s"}}},
            {"data": {"name": "scoreB"},
             "mark": {"type": "point", "filled": true, "size": 22, "opacity": 1},
             "encoding": {
               "x": {"field": "t", "type": "quantitative"},
               "y": {"field": "o", "type": "quantitative"},
               "color": {"field": "g", "type": "nominal", "scale": {"domain": ["N", "H"], "range": ["#000000", "#ff0000"]},
                         "legend": {"title": null, "orient": "none", "legendX": 100, "legendY": 9, "direction": "horizontal",
                                    "labelFont": "Liberation Serif", "labelFontSize": 11, "labelFontWeight": "bold", "labelColor": "#111", "symbolSize": 30, "columnPadding": 9, "labelOffset": 6}},
               "shape": {"field": "g", "type": "nominal", "scale": {"domain": ["N", "H"], "range": ["square", "circle"]}}
             }},
            {"data": {"values": [{}]},
             "mark": {"type": "text", "font": "Liberation Sans", "fontSize": 9, "fontWeight": "bold", "color": "#222"},
             "encoding": {"x": {"datum": -35.4, "type": "quantitative"}, "y": {"datum": 21, "type": "quantitative"}, "text": {"value": "B"}}}
          ]
        },
        {
          "width": 224, "height": 227,
          "view": {"stroke": "#111", "strokeWidth": 1},
          "layer": [
            {"data": {"values": [{"p": 8.7, "p2": 0.39, "c": 0}]},
             "mark": {"type": "rule", "color": "#1a1ad0", "strokeWidth": 2.2},
             "encoding": {"x": {"field": "p", "type": "quantitative", "scale": {"domain": [8.8, 0.25], "nice": false, "zero": false}},
                          "x2": {"field": "p2"},
                          "y": {"field": "c", "type": "quantitative", "scale": {"domain": [-1740, 3458], "nice": false, "zero": false}}}},
            {"data": {"name": "nmrB"},
             "mark": {"type": "rule", "strokeWidth": 1.6, "clip": true},
             "encoding": {
               "x": {"field": "p", "type": "quantitative", "scale": {"domain": [8.8, 0.25], "nice": false, "zero": false},
                     "axis": {"title": "Chemical Shift (ppm)", "values": [8, 6, 4, 2], "grid": false, "domain": false, "ticks": false,
                              "labelFont": "Liberation Serif", "labelFontSize": 13, "labelFontWeight": "bold", "labelColor": "#111", "labelPadding": 5,
                              "titleFont": "Liberation Serif", "titleFontSize": 15, "titleFontWeight": "bold", "titleColor": "#111", "titlePadding": 1}},
               "y": {"field": "c", "type": "quantitative", "scale": {"domain": [-1740, 3458], "nice": false, "zero": false},
                     "axis": {"title": "Coefficients", "values": [-1000, 0, 1000, 2000, 3000], "labelExpr": "datum.value + ''", "grid": false, "domain": false, "ticks": false,
                              "labelFont": "Liberation Serif", "labelFontSize": 13, "labelFontWeight": "bold", "labelColor": "#111", "labelPadding": 4,
                              "titleFont": "Liberation Serif", "titleFontSize": 15, "titleFontWeight": "bold", "titleColor": "#111", "titlePadding": 4}},
               "y2": {"datum": 0},
               "color": {"field": "r", "type": "quantitative",
                         "scale": {"type": "linear", "domain": [0, 0.125, 0.375, 0.625, 0.875, 1], "range": ["#00008f", "#0000ff", "#00ffff", "#ffff00", "#ff0000", "#800000"]},
                         "legend": {"title": null, "orient": "right", "offset": 14, "direction": "vertical", "gradientLength": 227, "gradientThickness": 22,
                                    "values": [0, 0.2, 0.4, 0.6, 0.8, 1], "labelExpr": "datum.value + ''",
                                    "labelFont": "Liberation Serif", "labelFontSize": 13, "labelFontWeight": "bold", "labelColor": "#111", "labelOffset": 2,
                                    "gradientStrokeColor": "#222", "gradientStrokeWidth": 1}}
             }},
            {"data": {"name": "leadB"},
             "mark": {"type": "rule", "color": "#8a8a8a", "strokeWidth": 0.7},
             "encoding": {"x": {"field": "p", "type": "quantitative"}, "x2": {"field": "p2"}, "y": {"field": "c", "type": "quantitative"}, "y2": {"field": "c2"}}},
            {"data": {"name": "labB"},
             "mark": {"type": "text", "font": "Liberation Serif", "fontSize": 8, "fontWeight": "bold", "color": "#111"},
             "encoding": {"x": {"field": "p", "type": "quantitative"}, "y": {"field": "c", "type": "quantitative"}, "text": {"field": "t"}}}
          ]
        }
      ]
    }
  ]
}
